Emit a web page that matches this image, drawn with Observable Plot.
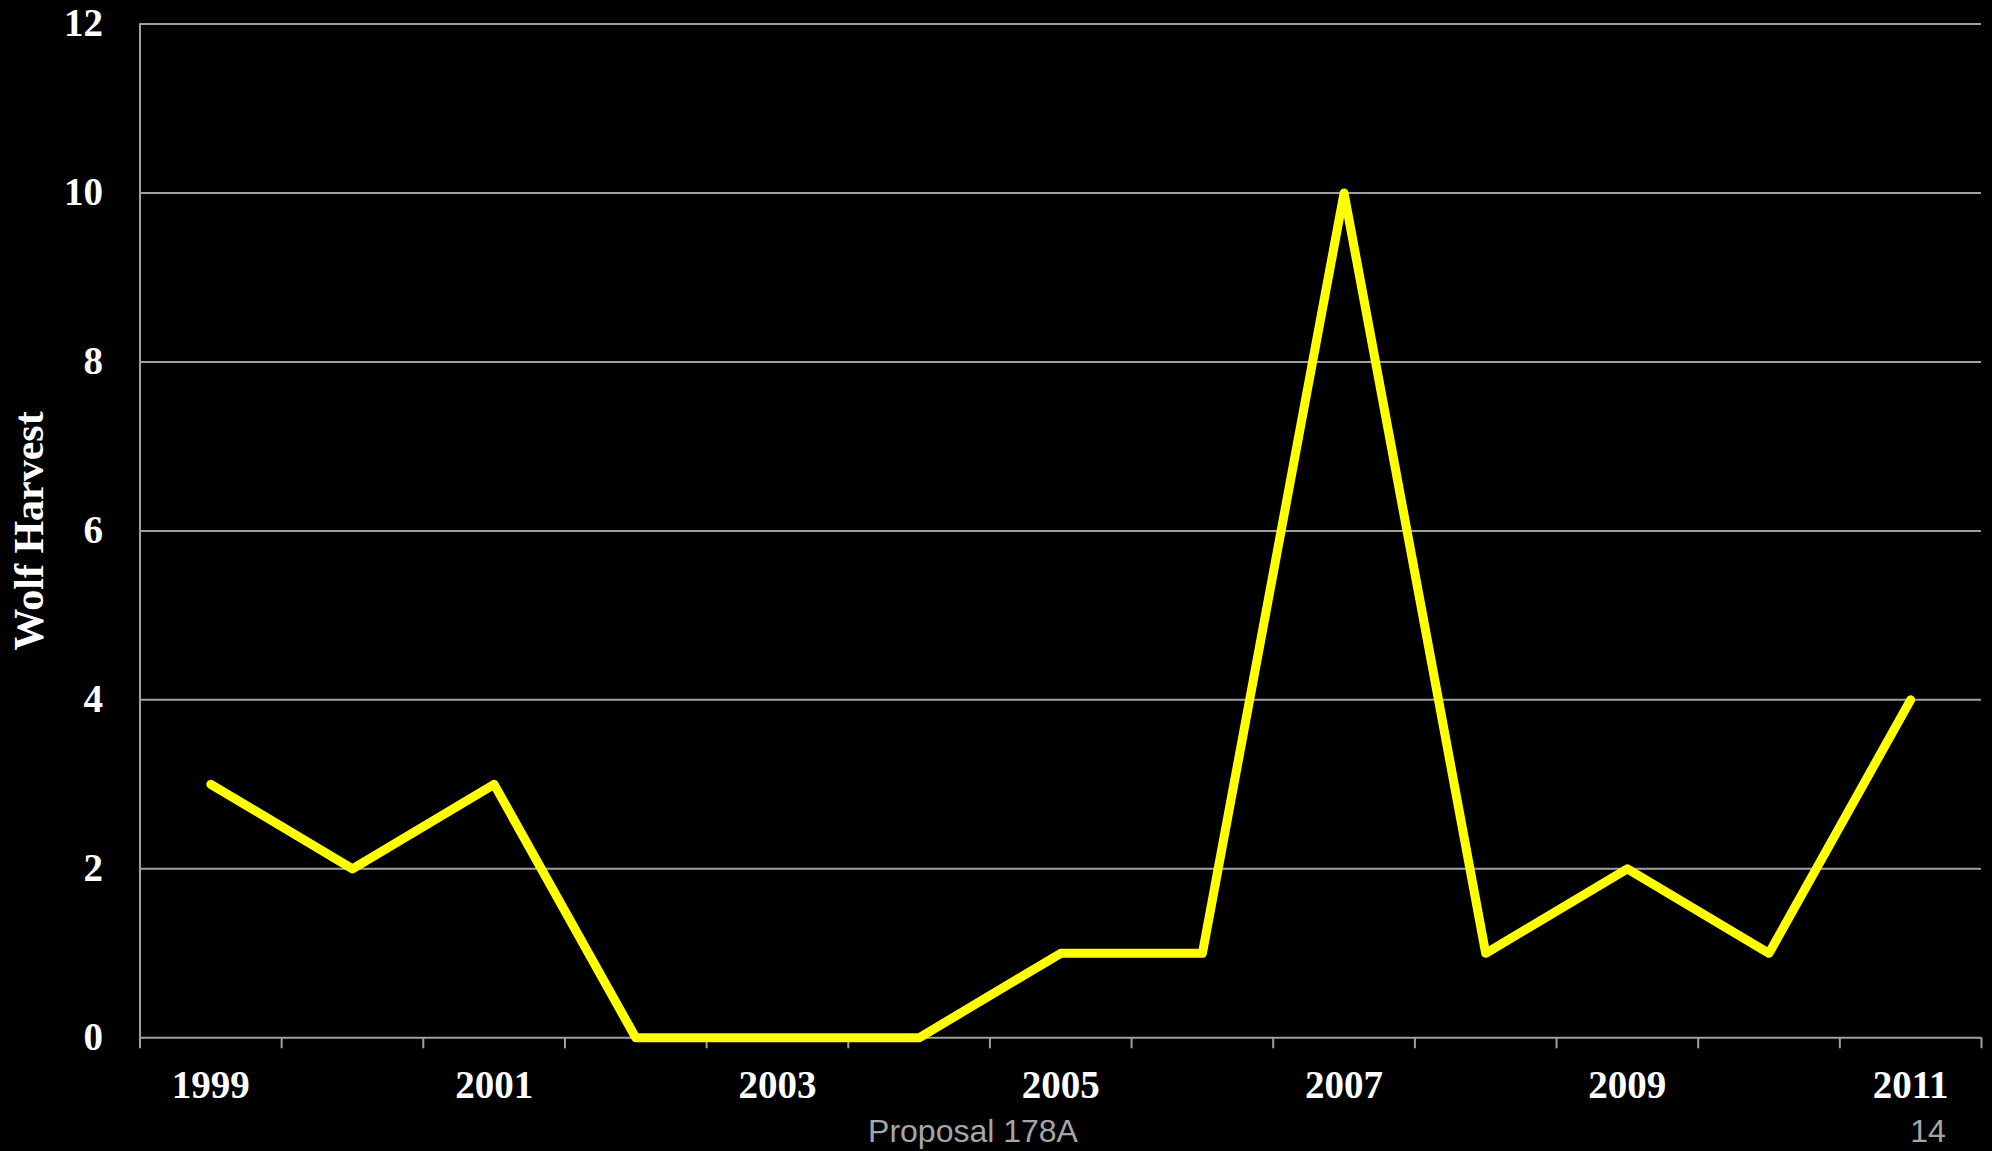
<!DOCTYPE html>
<html>
<head>
<meta charset="utf-8">
<script src="https://cdn.jsdelivr.net/npm/d3@7"></script>
<script src="https://cdn.jsdelivr.net/npm/@observablehq/plot@0.6"></script>
<style>
  html, body { margin: 0; padding: 0; background: #000; }
  #wrap { position: relative; width: 1992px; height: 1151px; overflow: hidden; }
  .foot { position: absolute; font-family: "Liberation Sans", Arial, sans-serif; font-size: 32px; color: #a6a6a6; line-height: 1; }
</style>
</head>
<body>
<div id="wrap"></div>
<script>
const years = [1999, 2000, 2001, 2002, 2003, 2004, 2005, 2006, 2007, 2008, 2009, 2010, 2011];
const harvest = [3, 2, 3, 0, 0, 0, 1, 1, 10, 1, 2, 1, 4];
const yTicks = [0, 2, 4, 6, 8, 10, 12];
const xLabelYears = [1999, 2001, 2003, 2005, 2007, 2009, 2011];
const yLabel = "Wolf Harvest";
const footerLeft = "Proposal 178A";
const footerRight = "14";

const data = years.map((y, i) => ({year: y, value: harvest[i]}));
const boundaries = years.map(y => y - 0.5).concat([years[years.length - 1] + 0.5]);
const gridLines = yTicks.filter(v => v > 0);

const serif = "'Liberation Serif', 'Times New Roman', serif";

const chart = Plot.plot({
  width: 1992,
  height: 1151,
  marginLeft: 139.5,
  marginTop: 23.5,
  marginRight: 11,
  marginBottom: 113.7,
  style: {background: "#000", color: "#fff", fontFamily: serif},
  x: {domain: [boundaries[0], boundaries[boundaries.length - 1]]},
  y: {domain: [0, 12]},
  marks: [
    Plot.ruleY(gridLines, {stroke: "#a0a0a0", strokeWidth: 2}),
    Plot.ruleY([0], {stroke: "#a0a0a0", strokeWidth: 2}),
    Plot.ruleX([boundaries[0]], {stroke: "#a0a0a0", strokeWidth: 2}),
    Plot.axisX({ticks: boundaries, tickFormat: () => "", tickSize: 11, stroke: "#a0a0a0", strokeWidth: 2, label: null}),
    Plot.axisX({ticks: xLabelYears, tickSize: 0, tickPadding: 32, tickFormat: d => String(d),
      fontSize: 39, fontWeight: "bold", fill: "#fff", label: null}),
    Plot.axisY({ticks: yTicks, tickSize: 0, tickPadding: 37, fontSize: 39, fontWeight: "bold", fill: "#fff", label: null}),
    Plot.text([yLabel], {frameAnchor: "left", textAnchor: "middle", dx: -110, rotate: -90, fontSize: 42, fontWeight: "bold", fill: "#fff", text: d => d}),
    Plot.line(data, {x: "year", y: "value", stroke: "#ffff00", strokeWidth: 9, strokeLinejoin: "round", strokeLinecap: "round"})
  ]
});
const wrap = document.getElementById("wrap");
wrap.appendChild(chart);

const f1 = document.createElement("div");
f1.className = "foot";
f1.textContent = footerLeft;
f1.style.left = "973px"; f1.style.top = "1115px"; f1.style.transform = "translateX(-50%)";
wrap.appendChild(f1);
const f2 = document.createElement("div");
f2.className = "foot";
f2.textContent = footerRight;
f2.style.left = "1928px"; f2.style.top = "1115px"; f2.style.transform = "translateX(-50%)";
wrap.appendChild(f2);
</script>
</body>
</html>
